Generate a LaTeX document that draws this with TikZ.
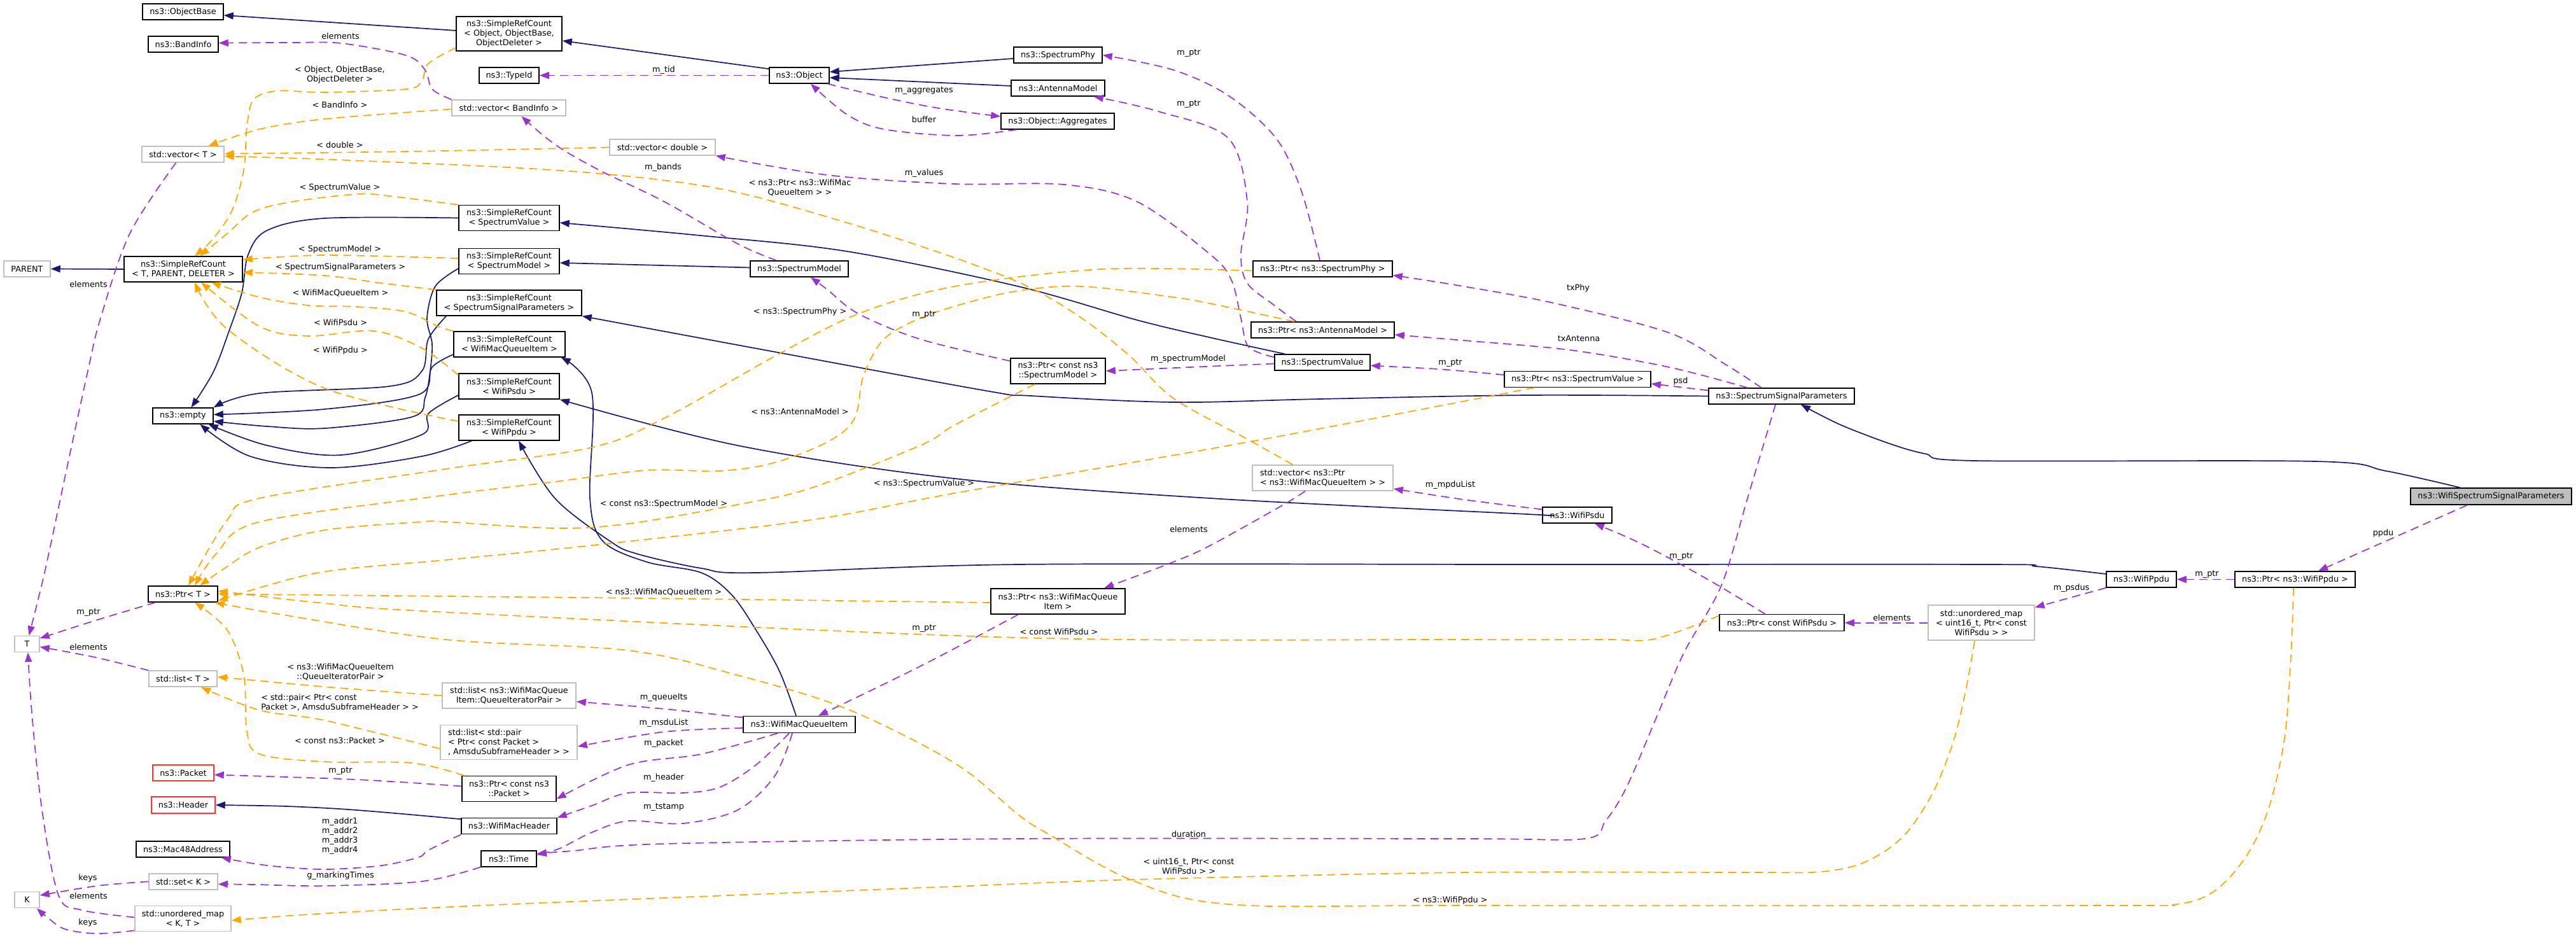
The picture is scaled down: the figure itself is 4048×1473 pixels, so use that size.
\documentclass[tikz,border=0pt]{standalone}
\usepackage{fontspec}
\setmainfont{DejaVu Sans}
\usetikzlibrary{arrows.meta}
\definecolor{navyc}{HTML}{191970}
\definecolor{purc}{HTML}{9A32CD}
\definecolor{orac}{HTML}{FFA500}
\definecolor{grayb}{HTML}{BFBFBF}
\definecolor{redb}{HTML}{FF3333}
\definecolor{fillg}{HTML}{BFBFBF}
\tikzset{
  txt/.style={font=\fontsize{12.8}{15}\selectfont, text=black},
  cls/.style={txt, draw=black, line width=1.5pt, fill=white, inner sep=0pt, align=center, rectangle},
  ext/.style={cls, draw=grayb},
  redbox/.style={cls, draw=redb},
  mainbox/.style={cls, fill=fillg},
  lbl/.style={txt, inner sep=0pt, align=center},
  tipA/.style={-{Triangle[length=15pt,width=11pt]}},
  inh/.style={draw=navyc, line width=1.7pt, tipA},
  usee/.style={draw=purc, line width=1.7pt, dash pattern=on 13pt off 8pt, tipA},
  tmpl/.style={draw=orac, line width=1.7pt, dash pattern=on 13pt off 8pt, tipA},
  sm/.style={smooth, tension=0.55}
}
\begin{document}
\begin{tikzpicture}[x=1pt,y=-1pt]
\fill[white] (0,0) rectangle (4048,1473);
\useasboundingbox (0,0) rectangle (4048,1473);
% ---------------- nodes
\node[cls, minimum width=127pt, minimum height=25pt] (objbase) at (287.5,18.5) {ns3::ObjectBase};
\node[cls, minimum width=110pt, minimum height=25pt] (bandinfo) at (288,69.5) {ns3::BandInfo};
\node[cls, minimum width=166pt, minimum height=54pt] (srcobj) at (800,53) {ns3::SimpleRefCount\\< Object, ObjectBase,\\ObjectDeleter >};
\node[cls, minimum width=94pt, minimum height=25pt] (typeid) at (800,118.5) {ns3::TypeId};
\node[ext, minimum width=179pt, minimum height=25pt] (vecband) at (799.5,169.5) {std::vector< BandInfo >};
\node[cls, minimum width=94pt, minimum height=25pt] (object) at (1256,118.5) {ns3::Object};
\node[ext, minimum width=129pt, minimum height=25pt] (vect) at (287.5,242.5) {std::vector< T >};
\node[ext, minimum width=166pt, minimum height=25pt] (vecdbl) at (1041,231.5) {std::vector< double >};
\node[cls, minimum width=139pt, minimum height=25pt] (sphy) at (1662.5,86.5) {ns3::SpectrumPhy};
\node[cls, minimum width=147pt, minimum height=25pt] (antenna) at (1662.5,138.5) {ns3::AntennaModel};
\node[cls, minimum width=178pt, minimum height=25pt] (aggr) at (1662,190.5) {ns3::Object::Aggregates};
\node[ext, minimum width=73pt, minimum height=25pt] (parent) at (42.5,422.5) {PARENT};
\node[cls, minimum width=186pt, minimum height=40pt] (srct) at (288,423) {ns3::SimpleRefCount\\< T, PARENT, DELETER >};
\node[cls, minimum width=158pt, minimum height=40pt] (srcsv) at (800,342.5) {ns3::SimpleRefCount\\< SpectrumValue >};
\node[cls, minimum width=158pt, minimum height=40pt] (srcsm) at (800,410.5) {ns3::SimpleRefCount\\< SpectrumModel >};
\node[cls, minimum width=154pt, minimum height=25pt] (smodel) at (1256,422.5) {ns3::SpectrumModel};
\node[cls, minimum width=228pt, minimum height=40pt] (srcssp) at (800,476) {ns3::SimpleRefCount\\< SpectrumSignalParameters >};
\node[cls, minimum width=175pt, minimum height=40pt] (srcwmqi) at (800.5,541) {ns3::SimpleRefCount\\< WifiMacQueueItem >};
\node[cls, minimum width=158pt, minimum height=40pt] (srcpsdu) at (800,607) {ns3::SimpleRefCount\\< WifiPsdu >};
\node[cls, minimum width=158pt, minimum height=40pt] (srcppdu) at (800,672) {ns3::SimpleRefCount\\< WifiPpdu >};
\node[cls, minimum width=95pt, minimum height=25pt] (empty) at (287.5,653.5) {ns3::empty};
\node[cls, minimum width=109pt, minimum height=25pt] (ptrt) at (287.5,933.5) {ns3::Ptr< T >};
\node[cls, minimum width=219pt, minimum height=25pt] (psphy) at (2078.5,422.5) {ns3::Ptr< ns3::SpectrumPhy >};
\node[cls, minimum width=225pt, minimum height=25pt] (pant) at (2078.5,518.5) {ns3::Ptr< ns3::AntennaModel >};
\node[cls, minimum width=150pt, minimum height=25pt] (svalue) at (2078,569.5) {ns3::SpectrumValue};
\node[cls, minimum width=149pt, minimum height=40pt] (pcsm) at (1662.5,583) {ns3::Ptr< const ns3\\::SpectrumModel >};
\node[ext, minimum width=221pt, minimum height=40pt, align=left] (vecpw) at (2078.5,751) {std::vector< ns3::Ptr\\< ns3::WifiMacQueueItem > >};
\node[cls, minimum width=211pt, minimum height=40pt] (pwmqi) at (1662.5,945) {ns3::Ptr< ns3::WifiMacQueue\\Item >};
\node[cls, minimum width=230pt, minimum height=25pt] (psv) at (2479,596) {ns3::Ptr< ns3::SpectrumValue >};
\node[cls, minimum width=229pt, minimum height=25pt] (ssp) at (2799.5,622.5) {ns3::SpectrumSignalParameters};
\node[mainbox, minimum width=253pt, minimum height=26pt] (wssp) at (3914.5,780) {ns3::WifiSpectrumSignalParameters};
\node[cls, minimum width=109pt, minimum height=25pt] (wpsdu) at (2478.5,809.5) {ns3::WifiPsdu};
\node[cls, minimum width=110pt, minimum height=25pt] (wppdu) at (3365,910.5) {ns3::WifiPpdu};
\node[cls, minimum width=189pt, minimum height=25pt] (pppdu) at (3606.5,910.5) {ns3::Ptr< ns3::WifiPpdu >};
\node[cls, minimum width=196pt, minimum height=26pt] (pcpsdu) at (2800,978.7) {ns3::Ptr< const WifiPsdu >};
\node[ext, minimum width=167pt, minimum height=55pt] (map16) at (3113.5,978.7) {std::unordered\_map\\< uint16\_t, Ptr< const\\WifiPsdu > >};
\node[ext, minimum width=39pt, minimum height=25pt] (T) at (42.5,1012) {T};
\node[ext, minimum width=107pt, minimum height=25pt] (listt) at (287.5,1066.7) {std::list< T >};
\node[redbox, minimum width=96pt, minimum height=25pt] (packet) at (288,1214.5) {ns3::Packet};
\node[redbox, minimum width=100pt, minimum height=26pt] (header) at (288,1265) {ns3::Header};
\node[cls, minimum width=147pt, minimum height=25pt] (mac48) at (287.5,1334.4) {ns3::Mac48Address};
\node[ext, minimum width=108pt, minimum height=25pt] (setk) at (288,1385.3) {std::set< K >};
\node[ext, minimum width=39pt, minimum height=25pt] (K) at (42.5,1414) {K};
\node[ext, minimum width=151pt, minimum height=40pt] (mapkt) at (287.5,1443.5) {std::unordered\_map\\< K, T >};
\node[ext, minimum width=210pt, minimum height=40pt] (listqip) at (800,1093) {std::list< ns3::WifiMacQueue\\Item::QueueIteratorPair >};
\node[ext, minimum width=215pt, minimum height=54pt, align=left] (listpair) at (799.5,1166.5) {std::list< std::pair\\< Ptr< const Packet >\\, AmsduSubframeHeader > >};
\node[cls, minimum width=148pt, minimum height=40pt] (pcpacket) at (800,1239.5) {ns3::Ptr< const ns3\\::Packet >};
\node[cls, minimum width=150pt, minimum height=25pt] (wmh) at (800,1298.2) {ns3::WifiMacHeader};
\node[cls, minimum width=87pt, minimum height=25pt] (time) at (799.5,1349.3) {ns3::Time};
\node[cls, minimum width=176pt, minimum height=26pt] (wmqi) at (1256,1138.5) {ns3::WifiMacQueueItem};
% ---------------- inheritance
\draw[inh] ([shift={(0,-5)}]srcobj.west) -- ([shift={(0,5.5)}]objbase.east);
\draw[inh] ([shift={(0,3)}]object.north west) -- ([shift={(0,11)}]srcobj.east);
\draw[inh] ([shift={(0,5.5)}]sphy.west) -- ([shift={(0,-5.5)}]object.east);
\draw[inh] ([shift={(0,-3.5)}]antenna.west) -- ([shift={(0,3.5)}]object.east);
\draw[inh] (srct.west) -- (parent.east);
\draw[inh] plot[sm] coordinates {(srcsv.west) (510,343) (420,362) (390,400) (380,460) (360,520) (335,585) ([shift={(13,0)}]empty.north)};
\draw[inh] plot[sm] coordinates {([shift={(0,11.5)}]srcsm.west) (684,450) (671,500) (679,540) (676,583) (668,625) (648,655) (510,673) (420,670) ([shift={(0,8.5)}]empty.east)};
\draw[inh] plot[sm] coordinates {([shift={(16,0)}]srcssp.south west) (673,533) (663,583) (612,607) (408,618) (empty.north east)};
\draw[inh] plot[sm] coordinates {([shift={(0,16)}]srcwmqi.west) (679,577) (658,620) (510,643) ([shift={(0,-2)}]empty.east)};
\draw[inh] plot[sm] coordinates {([shift={(0,14)}]srcpsdu.west) (673,650) (663,683) (536,715) (420,700) ([shift={(-8,0)}]empty.south east)};
\draw[inh] plot[sm] coordinates {([shift={(21,0)}]srcppdu.south west) (663,717) (520,735) (393,717) ([shift={(27,0)}]empty.south)};
\draw[inh] plot[sm] coordinates {([shift={(17,0)}]svalue.north west) (1900,530) (1787,503) (1600,450) (1331,395) (1100,370) ([shift={(0,7.5)}]srcsv.east)};
\draw[inh] ([shift={(0,-2)}]smodel.west) -- ([shift={(0,2.5)}]srcsm.east);
\draw[inh] plot[sm] coordinates {(ssp.west) (2400,621) (2074,627) (1844,632) (1620,622) (1555,615) (1234,556) (srcssp.south east)};
\draw[inh] plot[sm] coordinates {(wpsdu.west) (2400,808) (1902,783) (1500,752) (1159,700) (srcpsdu.south east)};
\draw[inh] plot[sm] coordinates {([shift={(0,-8.5)}]wppdu.west) (3200,890) (3125,887) (2400,887) (1600,887) (1188,900) (1102,893) (1000,870) (958,850) (872,783) ([shift={(15,0)}]srcppdu.south)};
\draw[inh] plot[sm] coordinates {([shift={(-5,0)}]wmqi.north) (1225,1055) (1188,990) (1150,935) (1102,900) (1016,883) (947,850) (927,783) (930,617) ([shift={(-7,0)}]srcwmqi.south east)};
\draw[inh] plot[sm] coordinates {([shift={(0,-11)}]wmh.west) (561,1273) (450,1267) (header.east)};
\draw[inh] plot[sm] coordinates {([shift={(-48.5,0)}]wssp.north) (3749,740) (3638,725) (3103,724) (3025,713) (2969,697) (2891,667) ([shift={(30.5,0)}]ssp.south)};
% ---------------- usage (purple)
\draw[usee] (object.west) -- (typeid.east);
\draw[usee] plot[sm] coordinates {([shift={(-3,0)}]object.south east) (1389,153) (1475,170) ([shift={(0,-7.5)}]aggr.west)};
\draw[usee] plot[sm] coordinates {([shift={(25,0)}]aggr.south west) (1504,213) (1389,203) (1331,180) ([shift={(18,0)}]object.south)};
\draw[usee] plot[sm] coordinates {(vecband.north west) (679,140) (668,110) (638,87) (536,68) (459,67) ([shift={(0,-2)}]bandinfo.east)};
\draw[usee] plot[sm] coordinates {([shift={(-11,0)}]vect.south) (204,367) (158,500) (138,583) (102,750) (70,900) ([shift={(3,0)}]T.north)};
\draw[usee] plot[sm] coordinates {([shift={(-4.5,0)}]psphy.north) (2045,300) (2005,217) (1930,150) (1844,110) (sphy.east)};
\draw[usee] plot[sm] coordinates {([shift={(-41.5,0)}]pant.north) (2000,478) (1960,445) (1950,400) (1960,317) (1930,217) (1820,175) ([shift={(-18,0)}]antenna.south east)};
\draw[usee] plot[sm] coordinates {([shift={(0,5)}]svalue.north west) (1962,545) (1950,500) (1935,440) (1902,400) (1787,317) (1672,290) (1500,289) (1300,275) (vecdbl.south east)};
\draw[usee] plot[sm] coordinates {([shift={(-36,0)}]smodel.north) (1159,383) (1044,317) (941,267) (872,227) ([shift={(20,0)}]vecband.south)};
\draw[usee] plot[sm] coordinates {([shift={(0,5)}]pcsm.north west) (1446,533) (1349,493) (1300,455) ([shift={(18,0)}]smodel.south)};
\draw[usee] plot[sm] coordinates {([shift={(0,2)}]svalue.west) (1870,577) (pcsm.east)};
\draw[usee] plot[sm] coordinates {([shift={(0,-7)}]psv.west) (2260,580) ([shift={(0,5)}]svalue.east)};
\draw[usee] ([shift={(0,-9)}]ssp.west) -- ([shift={(0,7)}]psv.east);
\draw[usee] plot[sm] coordinates {([shift={(-31.5,0)}]ssp.north) (2712,573) (2623,523) (2445,477) (2300,450) ([shift={(0,10)}]psphy.east)};
\draw[usee] plot[sm] coordinates {([shift={(-53.5,0)}]ssp.north) (2623,577) (2467,550) (2300,535) ([shift={(0,7.5)}]pant.east)};
\draw[usee] plot[sm] coordinates {([shift={(-9.5,0)}]ssp.south) (2746,783) (2705,920) (2646,1026) (2601,1132) (2556,1237) (2523,1290) (2490,1318) (2300,1318) (1600,1318) (1044,1326) (900,1337) ([shift={(0,-8)}]time.east)};
\draw[usee] plot[sm] coordinates {([shift={(-11,0)}]wmqi.south) (1217,1220) (1159,1273) (1073,1294) (987,1290) (930,1308) (880,1333) ([shift={(0,-6)}]time.east)};
\draw[usee] plot[sm] coordinates {(time.south west) (663,1385) (510,1392) (400,1390) ([shift={(0,4)}]setk.east)};
\draw[usee] plot[sm] coordinates {(wmh.south west) (673,1336) (658,1347) (600,1360) (510,1366) (420,1360) ([shift={(-14,0)}]mac48.south east)};
\draw[usee] plot[sm] coordinates {([shift={(0,-4)}]pcpacket.west) (560,1225) ([shift={(0,3)}]packet.east)};
\draw[usee] plot[sm] coordinates {(listt.north west) (150,1033) ([shift={(0,4.5)}]T.east)};
\draw[usee] plot[sm] coordinates {([shift={(12,0)}]ptrt.south west) (150,975) ([shift={(0,-9)}]T.east)};
\draw[usee] plot[sm] coordinates {(setk.west) (153,1392) ([shift={(0,-7)}]K.east)};
\draw[usee] plot[sm] coordinates {([shift={(0,-2)}]mapkt.west) (128,1430) (92,1407) (66,1273) (50,1120) ([shift={(1.5,0)}]T.south)};
\draw[usee] plot[sm] coordinates {([shift={(0,-2)}]mapkt.south west) (153,1467) (102,1460) (75,1442) ([shift={(-5,0)}]K.south east)};
\draw[usee] (wppdu.south west) -- ([shift={(0,4)}]map16.north east);
\draw[usee] (map16.west) -- (pcpsdu.east);
\draw[usee] plot[sm] coordinates {([shift={(-26,0)}]pcpsdu.north) (2700,920) (2634,883) (2570,850) ([shift={(27.5,0)}]wpsdu.south)};
\draw[usee] plot[sm] coordinates {([shift={(-27.5,0)}]vecpw.south) (2017,793) (1902,857) (1844,883) ([shift={(72.5,0)}]pwmqi.north)};
\draw[usee] plot[sm] coordinates {([shift={(-62.5,0)}]pwmqi.south) (1450,1045) ([shift={(30,0)}]wmqi.north)};
\draw[usee] plot[sm] coordinates {([shift={(0,-11)}]wmqi.west) (1044,1114) ([shift={(0,9.5)}]listqip.east)};
\draw[usee] plot[sm] coordinates {([shift={(0,5.5)}]wmqi.west) (1044,1150) ([shift={(0,6.5)}]listpair.east)};
\draw[usee] plot[sm] coordinates {([shift={(-34,0)}]wmqi.south) (1102,1185) (987,1202) ([shift={(0,16)}]pcpacket.east)};
\draw[usee] plot[sm] coordinates {([shift={(-16,0)}]wmqi.south) (1188,1202) (1131,1237) (1073,1246) (987,1246) (930,1266) (wmh.north east)};
\draw[usee] ([shift={(-37.5,0)}]wssp.south) -- ([shift={(36.5,0)}]pppdu.north);
\draw[usee] (pppdu.west) -- (wppdu.east);
\draw[usee] plot[sm] coordinates {([shift={(0,-9)}]wpsdu.west) (2300,785) ([shift={(0,17)}]vecpw.east)};
% ---------------- template (orange)
\draw[tmpl] plot[sm] coordinates {([shift={(0,22)}]srcobj.west) (673,100) (663,127) (638,140) (510,145) (434,143) (398,157) (388,200) (383,267) (365,330) (335,375) ([shift={(18,0)}]srct.north)};
\draw[tmpl] plot[sm] coordinates {([shift={(0,2)}]vecband.west) (510,187) (408,203) ([shift={(40,0)}]vect.north)};
\draw[tmpl] plot[sm] coordinates {(vecdbl.west) (700,237) (500,240) ([shift={(0,-1)}]vect.east)};
\draw[tmpl] plot[sm] coordinates {([shift={(-47,0)}]vecpw.north) (1960,690) (1844,626) (1776,560) (1700,500) (1615,450) (1500,405) (1331,350) (1148,300) (987,277) (800,263) (500,250) ([shift={(0,3)}]vect.east)};
\draw[tmpl] plot[sm] coordinates {(srcsv.north west) (612,308) (561,305) (459,317) (398,333) (357,367) ([shift={(26,0)}]srct.north)};
\draw[tmpl] plot[sm] coordinates {([shift={(0,-4.5)}]srcsm.west) (510,401) ([shift={(0,-15)}]srct.east)};
\draw[tmpl] plot[sm] coordinates {(srcssp.north west) (600,445) (510,433) ([shift={(0,5)}]srct.east)};
\draw[tmpl] plot[sm] coordinates {(srcwmqi.north west) (689,513) (638,490) (561,482) (485,480) (408,467) ([shift={(44,0)}]srct.south)};
\draw[tmpl] plot[sm] coordinates {([shift={(0,3)}]srcpsdu.north west) (663,547) (587,520) (485,528) (408,513) ([shift={(28,0)}]srct.south)};
\draw[tmpl] plot[sm] coordinates {([shift={(0,-10)}]srcppdu.west) (510,610) (357,517) ([shift={(18,0)}]srct.south)};
\draw[tmpl] plot[sm] coordinates {([shift={(4,0)}]pcpacket.north west) (648,1199) (510,1197) (408,1185) (388,1149) (383,1061) (357,990) ([shift={(18.5,0)}]ptrt.south)};
\draw[tmpl] plot[sm] coordinates {(listqip.west) (520,1080) ([shift={(0,-3)}]listt.east)};
\draw[tmpl] plot[sm] coordinates {([shift={(0,10)}]listpair.west) (510,1132) (408,1116) ([shift={(28.5,0)}]listt.south)};
\draw[tmpl] plot[sm] coordinates {([shift={(-10.5,0)}]map16.south) (3088,1090) (3068,1170) (3035,1250) (2990,1315) (2930,1355) (2860,1370) (2750,1371) (2300,1371) (1787,1382) (1500,1393) (800,1421) (500,1436) ([shift={(0,3)}]mapkt.east)};
\draw[tmpl] plot[sm] coordinates {([shift={(0,-11)}]pcpsdu.west) (2600,1004) (2523,1005) (2300,1005) (1600,1002) (700,962) (500,947) ([shift={(0,-5)}]ptrt.east)};
\draw[tmpl] plot[sm] coordinates {([shift={(-2.5,0)}]pppdu.south) (3600,1030) (3590,1160) (3565,1270) (3530,1345) (3480,1400) (3420,1421) (3300,1423) (2300,1423) (1931,1421) (1776,1382) (1643,1308) (1600,1280) (1500,1199) (1331,1114) (1159,1061) (987,1022) (700,1005) (450,967) ([shift={(-5,0)}]ptrt.south east)};
\draw[tmpl] plot[sm] coordinates {([shift={(0,2)}]pwmqi.west) (1000,940) (ptrt.east)};
\draw[tmpl] plot[sm] coordinates {([shift={(0,3)}]psphy.west) (1730,423) (1500,450) (1349,493) (1217,560) (1044,657) (930,703) (700,737) (408,783) (357,817) ([shift={(8.5,0)}]ptrt.north)};
\draw[tmpl] plot[sm] coordinates {([shift={(-44.5,0)}]pant.north) (1902,477) (1844,467) (1700,450) (1600,457) (1515,477) (1446,500) (1389,533) (1357,590) (1343,657) (1303,693) (1217,727) (1131,740) (1016,739) (872,757) (700,778) (408,820) (340,870) ([shift={(18.5,0)}]ptrt.north)};
\draw[tmpl] plot[sm] coordinates {([shift={(-36.5,0)}]pcsm.south) (1500,668) (1446,700) (1274,767) (1159,793) (987,823) (872,830) (700,820) (663,820) (510,833) (408,860) (350,895) ([shift={(26.5,0)}]ptrt.north)};
\draw[tmpl] plot[sm] coordinates {([shift={(-68,0)}]psv.south) (1959,695) (1500,775) (1274,817) (930,857) (700,880) (500,900) ([shift={(0,10.5)}]ptrt.east)};
% ---------------- labels
\node[lbl] (l01) at (535,57) {elements};
\node[lbl] (l02) at (534,117) {< Object, ObjectBase,\\ObjectDeleter >};
\node[lbl] (l03) at (1043,110) {m\_tid};
\node[lbl] (l04) at (534,165) {< BandInfo >};
\node[lbl] (l05) at (1452,143) {m\_aggregates};
\node[lbl] (l06) at (1452,188) {buffer};
\node[lbl] (l07) at (1868,84) {m\_ptr};
\node[lbl] (l08) at (1868,164) {m\_ptr};
\node[lbl] (l09) at (534,228) {< double >};
\node[lbl] (l10) at (1042,263) {m\_bands};
\node[lbl] (l11) at (1452,272) {m\_values};
\node[lbl] (l12) at (1257,295) {< ns3::Ptr< ns3::WifiMac\\QueueItem > >};
\node[lbl] (l13) at (534,295) {< SpectrumValue >};
\node[lbl] (l14) at (534,392) {< SpectrumModel >};
\node[lbl] (l15) at (535,420) {< SpectrumSignalParameters >};
\node[lbl] (l16) at (139,447) {elements};
\node[lbl] (l17) at (535,460) {< WifiMacQueueItem >};
\node[lbl] (l18) at (2480,453) {txPhy};
\node[lbl] (l19) at (1257,490) {< ns3::SpectrumPhy >};
\node[lbl] (l20) at (1452,495) {m\_ptr};
\node[lbl] (l21) at (535,507) {< WifiPsdu >};
\node[lbl] (l22) at (2481,532) {txAntenna};
\node[lbl] (l23) at (535,551) {< WifiPpdu >};
\node[lbl] (l24) at (1867,564) {m\_spectrumModel};
\node[lbl] (l25) at (2279,571) {m\_ptr};
\node[lbl] (l26) at (2641,599) {psd};
\node[lbl] (l27) at (1257,647) {< ns3::AntennaModel >};
\node[lbl] (l28) at (1452,760) {< ns3::SpectrumValue >};
\node[lbl] (l29) at (2279,762) {m\_mpduList};
\node[lbl] (l30) at (1043,792) {< const ns3::SpectrumModel >};
\node[lbl] (l31) at (1868,832) {elements};
\node[lbl] (l32) at (3745,838) {ppdu};
\node[lbl] (l33) at (2642,875) {m\_ptr};
\node[lbl] (l34) at (3468,903) {m\_ptr};
\node[lbl] (l35) at (3255,924) {m\_psdus};
\node[lbl] (l36) at (1043,930.6) {< ns3::WifiMacQueueItem >};
\node[lbl] (l37) at (139,963) {m\_ptr};
\node[lbl] (l38) at (2973,970.4) {elements};
\node[lbl] (l39) at (1452,987.7) {m\_ptr};
\node[lbl] (l40) at (1664,992.3) {< const WifiPsdu >};
\node[lbl] (l41) at (139,1016.5) {elements};
\node[lbl] (l42) at (535,1056) {< ns3::WifiMacQueueItem\\::QueueIteratorPair >};
\node[lbl, align=left] (l43) at (534,1104) {< std::pair< Ptr< const\\Packet >, AmsduSubframeHeader > >};
\node[lbl] (l44) at (1043,1096) {m\_queueIts};
\node[lbl] (l45) at (1043,1136.5) {m\_msduList};
\node[lbl] (l46) at (534,1164) {< const ns3::Packet >};
\node[lbl] (l47) at (1043,1168.6) {m\_packet};
\node[lbl] (l48) at (535,1211.7) {m\_ptr};
\node[lbl] (l49) at (1043,1222.6) {m\_header};
\node[lbl] (l50) at (1043,1268) {m\_tstamp};
\node[lbl, align=left] (l51) at (534,1313.5) {m\_addr1\\m\_addr2\\m\_addr3\\m\_addr4};
\node[lbl] (l52) at (1868,1310.4) {duration};
\node[lbl] (l53) at (1868,1361.5) {< uint16\_t, Ptr< const\\WifiPsdu > >};
\node[lbl] (l54) at (535,1375.7) {g\_markingTimes};
\node[lbl] (l55) at (138,1380) {keys};
\node[lbl] (l56) at (139,1407.4) {elements};
\node[lbl] (l57) at (2279,1414.5) {< ns3::WifiPpdu >};
\node[lbl] (l58) at (138,1450) {keys};
\end{tikzpicture}
\end{document}
